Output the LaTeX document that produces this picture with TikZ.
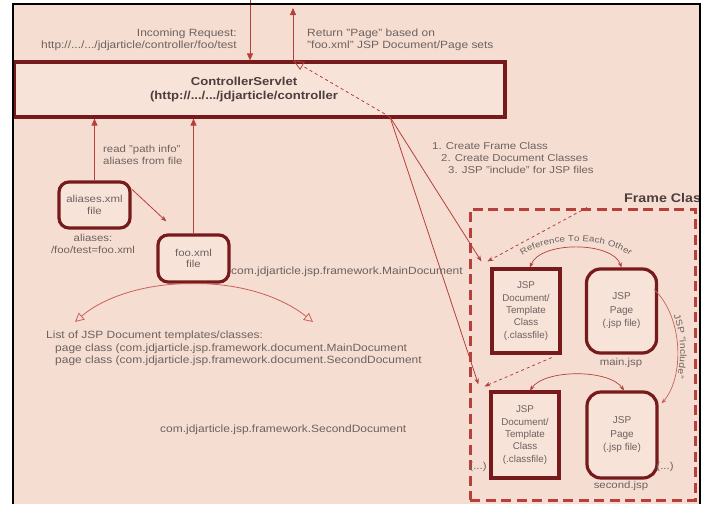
\documentclass[tikz,border=0pt]{standalone}
\usepackage{fontspec}
\setmainfont{Liberation Sans}[FakeStretch=1.14]
\newfontfamily\boxface{Liberation Sans}
\usetikzlibrary{arrows.meta,decorations.text,calc}

\definecolor{paper}{HTML}{F6DDD1}
\definecolor{boxfill}{HTML}{F8E3D9}
\definecolor{wire}{HTML}{B3403B}
\definecolor{softwire}{HTML}{C9605A}
\definecolor{boxline}{HTML}{761A1C}
\definecolor{frameline}{HTML}{B8403C}
\definecolor{ink}{HTML}{6C6260}
\definecolor{inkdark}{HTML}{4C3E3C}

\begin{document}
\begin{tikzpicture}[x=1pt,y=-1pt,
  every node/.style={text=ink, inner sep=0pt, font=\fontsize{10.5}{12.5}\selectfont},
  wireln/.style={draw=wire, line width=0.8pt},
  uptip/.style={-{Triangle[length=7pt,width=6pt]}},
  smalltip/.style={-{Stealth[length=6pt,width=4.5pt]}},
  opentip/.style={-{Triangle[open,length=9pt,width=9pt]}},
  ctrlbox/.style={draw=boxline, line width=3.2pt, fill=boxfill},
  filebox/.style={draw=boxline, line width=3.2pt, fill=boxfill, rounded corners=10pt,
    align=center, minimum width=71pt, minimum height=46pt, font=\fontsize{10}{11.5}\selectfont},
  docbox/.style={draw=boxline, line width=3.2pt, fill=boxfill, align=center,
    minimum width=68pt, font=\boxface\fontsize{9.8}{12.3}\selectfont},
  pagebox/.style={draw=boxline, line width=3.2pt, fill=boxfill, rounded corners=14pt,
    align=center, minimum width=70pt, font=\boxface\fontsize{10}{13.5}\selectfont},
  framebox/.style={draw=frameline, line width=3pt, dash pattern=on 10pt off 5.5pt},
  note/.style={font=\fontsize{10}{12}\selectfont}
]
\useasboundingbox (0,0) rectangle (704,504);
\fill[white] (0,0) rectangle (704,504);
\fill[paper] (13,4) rectangle (700,504);

% container for the frame class
\node[framebox, minimum width=225pt, minimum height=291pt] (frame) at (582.5,354.5) {};
\node[anchor=west, text=inkdark, font=\bfseries\fontsize{12.5}{14}\selectfont] (frametitle) at (624,198) {Frame Class};

% servlet
\node[ctrlbox, minimum width=491pt, minimum height=55pt] (ctrl) at (259.5,89.5) {};
\node[align=center, text=inkdark, font=\bfseries\fontsize{11.5}{14}\selectfont] (ctrllbl) at (244,90)
  {ControllerServlet\\(http://.../.../jdjarticle/controller};

% alias and document files
\node[filebox] (aliases) at (94.5,205) {aliases.xml\\file};
\node[filebox, minimum height=47pt] (foo) at (193.5,258.5) {foo.xml\\file};

% frame contents
\node[docbox, minimum height=84pt] (doc1) at (526,311) {JSP\\Document/\\Template\\Class\\(.classfile)};
\node[pagebox, minimum height=84pt] (page1) at (621.5,311) {JSP\\Page\\(.jsp file)};
\node[docbox, minimum height=86pt] (doc2) at (525,435) {JSP\\Document/\\Template\\Class\\(.classfile)};
\node[pagebox, minimum height=86pt] (page2) at (622,435) {JSP\\Page\\(.jsp file)};

% request / response
\coordinate (reqtop) at (250,-2);
\coordinate (rettop) at (293,8);
\coordinate (fork) at (390,117);
\draw[wireln, uptip] (reqtop) -- (ctrl.north -| reqtop);
\draw[wireln, uptip] (ctrl.north -| rettop) -- (rettop);
\draw[wireln, dashed, -{Triangle[open,length=11pt,width=9pt]}] (fork) -- (ctrl.north -| rettop);

\node[anchor=east, align=right] (reqlbl) at (237,40)
  {Incoming Request:\\http://.../.../jdjarticle/controller/foo/test};
\node[anchor=west, align=left] (retlbl) at (307,40)
  {Return "Page" based on\\"foo.xml" JSP Document/Page sets};

% servlet creates the frame
\draw[wireln, smalltip] (fork) -- ($(doc1.north west)+(-9,-6)$);
\draw[wireln, smalltip] (fork) -- ($(doc2.north west)+(-11,-6)$);
\coordinate (frametop) at ($(frame.north west)!0.52!(frame.north east)$);
\draw[wireln, dashed, smalltip] (frametop) -- ($(doc1.north west)+(-3,-6)$);
\draw[wireln, dashed, smalltip] ($(doc1.south east)+(-10,3)$) -- ($(doc2.north west)+(-5,-4)$);

\node[anchor=north west, align=left, note] (steps) at (432,142)
  {1. Create Frame Class\\\hspace*{9pt}2. Create Document Classes\\\hspace*{16pt}3. JSP "include" for JSP files};

% document <-> page references
\draw[wireln, line width=0.7pt, {Stealth[length=5pt,width=4pt]}-{Stealth[length=5pt,width=4pt]}]
  ($(doc1.north)+(4,0)$) .. controls (540,241) and (612,241) .. (page1.north);
\path[decorate, decoration={text along path, text align=center, text color=ink, raise=2pt,
  text={|\fontsize{8.5}{10}\selectfont|Reference To Each Other}}]
  (514,268) .. controls (532,235) and (620,235) .. (638,268);
\draw[wireln, line width=0.7pt, {Stealth[length=5pt,width=4pt]}-{Stealth[length=5pt,width=4pt]}]
  ($(doc2.north)+(5,0)$) .. controls (545,369) and (609,369) .. ($(page2.north)+(2,0)$);

% include between pages
\draw[draw=softwire, line width=0.7pt, -{Stealth[length=5pt,width=4pt]}]
  ($(page1.north east)+(-4,22)$) .. controls (684,318) and (684,378) .. ($(page2.north east)+(3,13)$);
\path[decorate, decoration={text along path, text align=center, text color=ink, raise=3pt,
  text={|\fontsize{9}{11}\selectfont|JSP "include"}}]
  (653,291) .. controls (684,318) and (684,378) .. (660,405);

\node[note] (mainlbl) at (621,363) {main.jsp};
\node[note] (secondlbl) at (621,486) {second.jsp};
\node[note] (moreL) at (478,467) {(...)};
\node[note] (moreR) at (665,467) {(...)};

% alias lookup
\draw[wireln, uptip] (aliases.north) -- (aliases.north |- ctrl.south);
\draw[wireln, uptip] (foo.north) -- (foo.north |- ctrl.south);
\draw[wireln, smalltip] ($(aliases.east)+(0,-16)$) -- ($(foo.north west)+(10,-12)$);
\node[anchor=west, align=left, note] (readlbl) at (103,155) {read "path info"\\aliases from file};
\node[align=center, note] (aliaslbl) at (93,244) {aliases:\\/foo/test=foo.xml};
\node[anchor=west] (maindoc) at (231,272) {com.jdjarticle.jsp.framework.MainDocument};

% document list
\coordinate (listL) at (75,322);
\coordinate (listR) at (313,322);
\draw[draw=softwire, line width=0.8pt, opentip] (foo.south) .. controls (140,283) and (100,300) .. (listL);
\draw[draw=softwire, line width=0.8pt, opentip] (foo.south) .. controls (246,283) and (286,300) .. (listR);
\node[anchor=north west, align=left, font=\fontsize{10.5}{12.5}\selectfont] (doclist) at (46,331)
  {List of JSP Document templates/classes:\\
   \hspace*{9pt}page class (com.jdjarticle.jsp.framework.document.MainDocument\\
   \hspace*{9pt}page class (com.jdjarticle.jsp.framework.document.SecondDocument};
\node[anchor=west] (seconddoc) at (160,430) {com.jdjarticle.jsp.framework.SecondDocument};

% outer rule
\fill[white] (701,0) rectangle (704,504);
\draw[black, line width=2pt] (13,504) -- (13,4) -- (700,4) -- (700,504);
\end{tikzpicture}
\end{document}
